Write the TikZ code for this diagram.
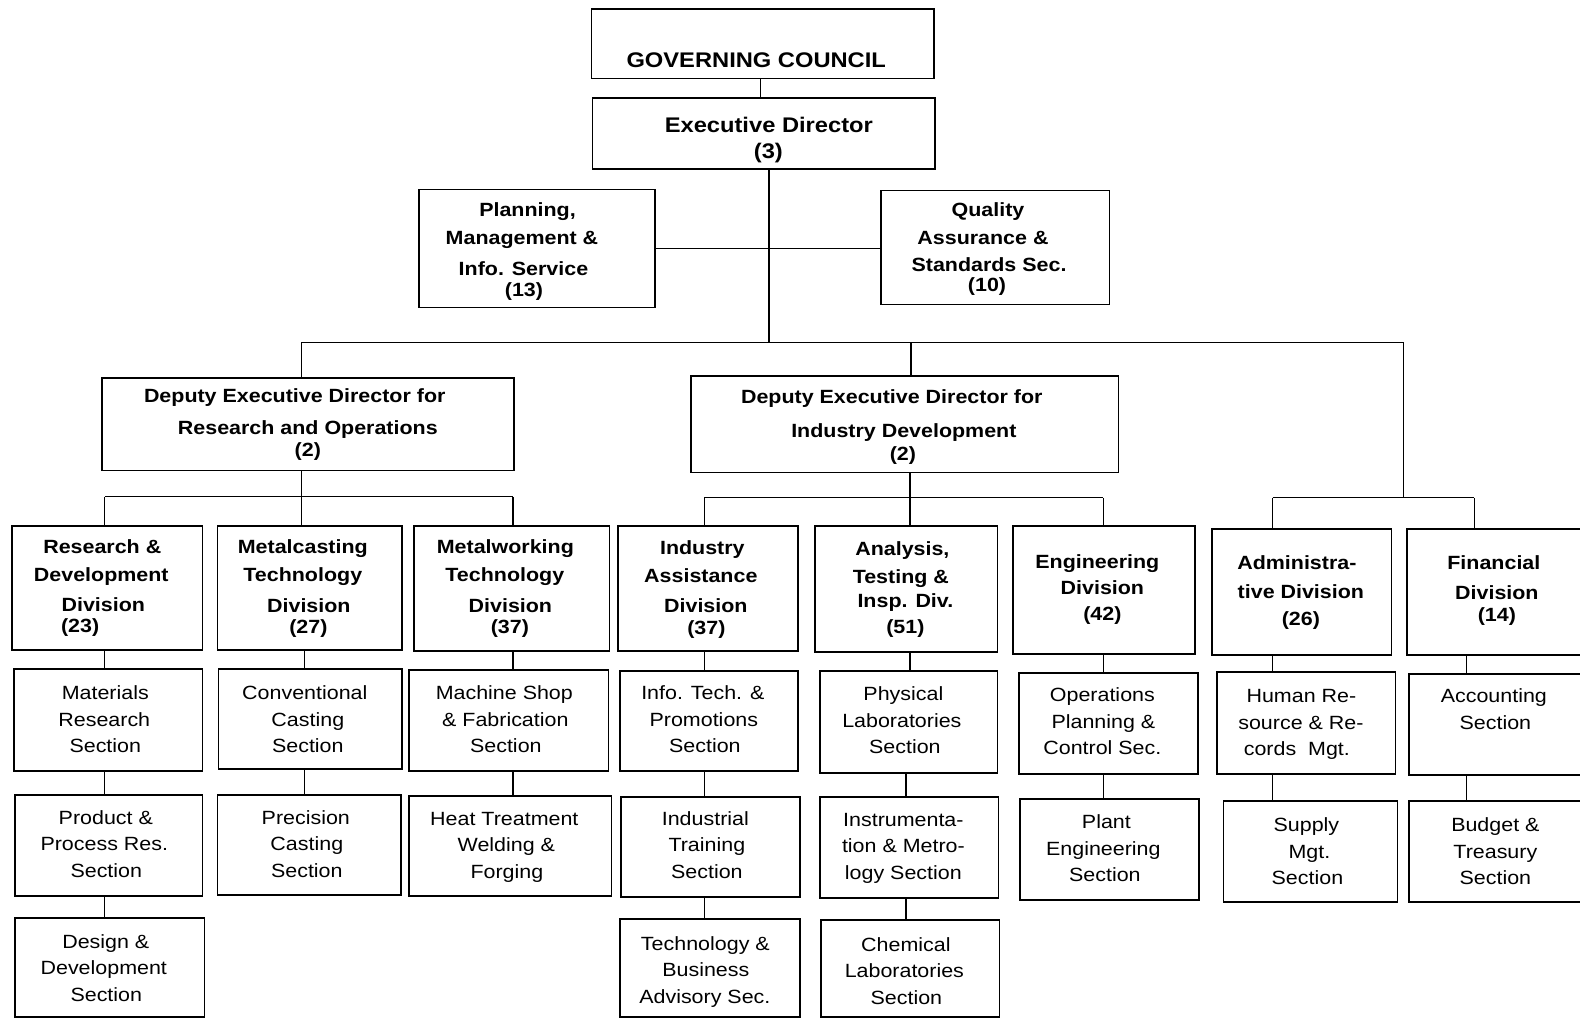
\documentclass[tikz,border=0pt]{standalone}
\usepackage{fontspec}
\setmainfont{Liberation Sans}[FakeStretch=1.12]
\tikzset{
  box/.style={draw, line width=1.6pt, inner sep=0pt, outer sep=0pt, align=center, text depth=0pt},
  topbox/.style={box, font={\bfseries\fontsize{21}{26}\selectfont}},
  midbox/.style={box, font={\bfseries\fontsize{19}{28}\selectfont}},
  secbox/.style={box, font={\fontsize{19}{26.5}\selectfont}},
  link/.style={line width=1.3pt},
}
% \K{n}: pad a line on its right so that it sits n/2 pt left of centre
\newcommand{\K}[1]{\kern#1pt\relax}
% \obox[opts]{style}{name}{x1}{y1}{x2}{y2}{text height}{text}
\newcommand{\obox}[9][]{\node[#2,minimum width={(#6)-(#4)},minimum height={(#7)-(#5)},text height=#8pt,#1] (#3) at ({((#4)+(#6))/2},{((#5)+(#7))/2}) {#9};}
\begin{document}
\begin{tikzpicture}[x=1pt,y=-1pt]
\useasboundingbox[fill=white] (0,0) rectangle (1568,1011);
% top level
\obox{topbox}{gc}{587}{9}{927}{78}{46}{GOVERNING COUNCIL\K{13}}
\obox{topbox}{ed}{588}{97}{928}{168}{50}{Executive Director\K{-10}\\(3)\K{-9}}
\obox{midbox}{plan}{416}{188}{650}{305}{95}{Planning,\K{19}\\Management \&\K{30}\\[2pt]Info. Service\K{27}\\[-7pt](13)\K{26}}
\obox{midbox}{qual}{874}{189}{1101}{302}{87}{Quality\K{14}\\Assurance \&\K{24}\\[-2pt]Standards Sec.\K{12}\\[-8pt](10)\K{16}}
\obox{midbox}{ded1}{101}{375}{510}{467}{64}{Deputy Executive Director for\K{26}\\[4pt]Research and Operations\\[-6pt](2)}
\obox{midbox}{ded2}{686}{373}{1110}{469}{72}{Deputy Executive Director for\K{26}\\[6pt]Industry Development\K{2}\\[-5pt](2)\K{4}}
% divisions
\obox{midbox}{d1}{12}{522}{201}{645}{89}{Research \&\K{10}\\Development\K{12}\\[2pt]Division\K{8}\\[-7pt](23)\K{54}}
\obox{midbox}{d2}{216}{522}{399}{645}{91}{Metalcasting\K{14}\\Technology\K{14}\\[3pt]Division\K{2}\\[-7pt](27)\K{3}}
\obox{midbox}{d3}{411}{522}{605}{646}{90}{Metalworking\K{13}\\Technology\K{14}\\[3pt]Division\K{3}\\[-7pt](37)\K{4}}
\obox{midbox}{d4}{613}{522}{792}{646}{92}{Industry\K{11}\\Assistance\K{14}\\[2pt]Division\K{4}\\[-6pt](37)\K{3}}
\obox{midbox}{d5}{809}{522}{990}{647}{89}{Analysis,\K{8}\\Testing \&\K{11}\\[-4pt]Insp. Div.\K{2}\\[-2pt](51)\K{2}}
\obox{midbox}{d6}{1005}{522}{1186}{649}{61}{Engineering\K{13}\\[-2pt]Division\K{3}\\[-2pt](42)\K{3}}
\obox{midbox}{d7}{1203}{525}{1381}{650}{67}{Administra-\K{10}\\[1pt]tive Division\K{2}\\[-1pt](26)\K{2}}
\obox{midbox}{d8}{1396}{525}{1572}{650}{59}{Financial\K{3}\\[2pt]Division\K{-3}\\[-6pt](14)\K{-3}}
% first sections
\obox{secbox}{s1a}{14}{664}{201}{765}{65}{Materials\K{6}\\Research\K{8}\\Section\K{6}}
\obox{secbox}{s2a}{217}{664}{399}{763}{67}{Conventional\K{11}\\Casting\K{5}\\Section\K{5}}
\obox{secbox}{s3a}{406}{665}{604}{765}{64}{Machine Shop\K{9}\\\& Fabrication\K{7}\\Section\K{6}}
\obox{secbox}{s4a}{615}{666}{792}{765}{63}{Info. Tech. \&\K{12}\\Promotions\K{10}\\Section\K{8}}
\obox{secbox}{s5a}{814}{666}{990}{767}{63}{Physical\K{11}\\Laboratories\K{14}\\Section\K{8}}
\obox{secbox}{s6a}{1011}{668}{1189}{768}{62}{Operations\K{12}\\Planning \&\K{10}\\Control Sec.\K{12}}
\obox{secbox}{s7a}{1208}{667}{1385}{768}{65}{Human Re-\K{10}\\source \& Re-\K{11}\\cords~~Mgt.\K{19}}
\obox{secbox}{s8a}{1398}{669}{1570}{769}{10}{Accounting\K{3}\\Section}
% second sections
\obox{secbox}{s1b}{15}{789}{201}{889}{64}{Product \&\K{6}\\Process Res.\K{9}\\Section\K{5}}
\obox{secbox}{s2b}{216}{789}{398}{888}{65}{Precision\K{7}\\Casting\K{5}\\Section\K{5}}
\obox{secbox}{s3b}{406}{790}{607}{889}{65}{Heat Treatment\K{12}\\Welding \&\K{8}\\Forging\K{7}}
\obox{secbox}{s4b}{616}{791}{794}{890}{63}{Industrial\K{10}\\Training\K{7}\\Section\K{7}}
\obox{secbox}{s5b}{814}{791}{991}{891}{64}{Instrumenta-\K{12}\\tion \& Metro-\K{12}\\logy Section\K{12}}
\obox{secbox}{s6b}{1012}{793}{1190}{893}{64}{Plant\K{6}\\Engineering\K{12}\\Section\K{9}}
\obox{secbox}{s7b}{1214}{795}{1387}{895}{66}{Supply\K{8}\\Mgt.\K{2}\\Section\K{6}}
\obox{secbox}{s8b}{1398}{795}{1570}{895}{66}{Budget \&\\Treasury\\Section}
% third sections
\obox{secbox}{s1c}{15}{911}{203}{1009}{68}{Design \&\K{8}\\Development\K{12}\\Section\K{7}}
\obox{secbox}{s4c}{615}{912}{794}{1009}{71}{Technology \&\K{9}\\Business\K{8}\\Advisory Sec.\K{10}}
\obox{secbox}{s5c}{815}{913}{992}{1009}{72}{Chemical\K{9}\\Laboratories\K{12}\\Section\K{8}}
% column and bus coordinates
\coordinate (kG) at (755,0);
\coordinate (kE) at (763,0);
\coordinate (kM) at (904,0);
\coordinate (kR) at (1393,0);
\coordinate (k1) at (104,0);
\coordinate (k2) at (302,0);
\coordinate (k2b) at (299,0);
\coordinate (k3) at (509,0);
\coordinate (k4) at (699,0);
\coordinate (k5) at (903,0);
\coordinate (k5b) at (899,0);
\coordinate (k6) at (1095,0);
\coordinate (k7) at (1263,0);
\coordinate (k8) at (1463,0);
\coordinate (k8b) at (1455,0);
\coordinate (yB0) at (0,340);
\coordinate (yB1) at (0,493);
\coordinate (yB2) at (0,494);
% connectors
\draw[link] (gc.south -| kG) -- (ed.north -| kG);
\draw[link] (ed.south -| kE) -- (kE |- yB0);
\draw[link] (plan.east) -- (plan.east -| qual.west);
\draw[link] (k2b |- yB0) -- (kR |- yB0);
\draw[link] (k2b |- yB0) -- (ded1.north -| k2b);
\draw[link] (kM |- yB0) -- (ded2.north -| kM);
\draw[link] (kR |- yB0) -- (kR |- yB2);
\draw[link] (ded1.south -| k2b) -- (k2b |- yB1);
\draw[link] (k1 |- yB1) -- (k3 |- yB1);
\draw[link] (k1 |- yB1) -- (d1.north -| k1);
\draw[link] (k2b |- yB1) -- (d2.north -| k2b);
\draw[link] (k3 |- yB1) -- (d3.north -| k3);
\draw[link] (ded2.south -| k5) -- (k5 |- yB2);
\draw[link] (k4 |- yB2) -- (k6 |- yB2);
\draw[link] (k4 |- yB2) -- (d4.north -| k4);
\draw[link] (k5 |- yB2) -- (d5.north -| k5);
\draw[link] (k6 |- yB2) -- (d6.north -| k6);
\draw[link] (k7 |- yB2) -- (k8 |- yB2);
\draw[link] (k7 |- yB2) -- (d7.north -| k7);
\draw[link] (k8 |- yB2) -- (d8.north -| k8);
% section chains
\draw[link] (d1.south -| k1) -- (s1a.north -| k1);
\draw[link] (s1a.south -| k1) -- (s1b.north -| k1);
\draw[link] (s1b.south -| k1) -- (s1c.north -| k1);
\draw[link] (d2.south -| k2) -- (s2a.north -| k2);
\draw[link] (s2a.south -| k2) -- (s2b.north -| k2);
\draw[link] (d3.south -| k3) -- (s3a.north -| k3);
\draw[link] (s3a.south -| k3) -- (s3b.north -| k3);
\draw[link] (d4.south -| k4) -- (s4a.north -| k4);
\draw[link] (s4a.south -| k4) -- (s4b.north -| k4);
\draw[link] (s4b.south -| k4) -- (s4c.north -| k4);
\draw[link] (d5.south -| k5) -- (s5a.north -| k5);
\draw[link] (s5a.south -| k5b) -- (s5b.north -| k5b);
\draw[link] (s5b.south -| k5b) -- (s5c.north -| k5b);
\draw[link] (d6.south -| k6) -- (s6a.north -| k6);
\draw[link] (s6a.south -| k6) -- (s6b.north -| k6);
\draw[link] (d7.south -| k7) -- (s7a.north -| k7);
\draw[link] (s7a.south -| k7) -- (s7b.north -| k7);
\draw[link] (d8.south -| k8b) -- (s8a.north -| k8b);
\draw[link] (s8a.south -| k8b) -- (s8b.north -| k8b);
\end{tikzpicture}
\end{document}
